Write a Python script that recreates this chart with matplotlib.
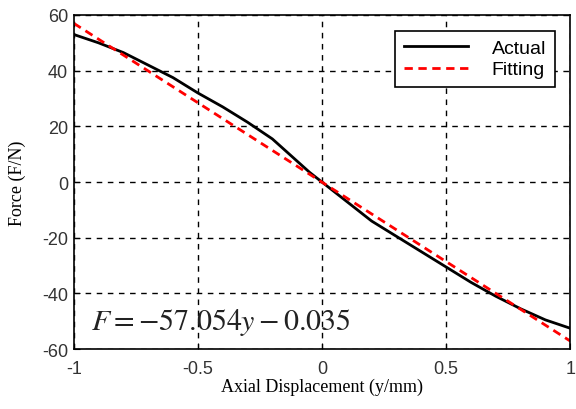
import numpy as np
import matplotlib
matplotlib.use("Agg")
import matplotlib.pyplot as plt

disp = [-1.0, -0.9, -0.8, -0.7, -0.6, -0.5, -0.4, -0.3, -0.25, -0.2, -0.15, -0.1,
        -0.05, 0.0, 0.05, 0.1, 0.15, 0.2, 0.3, 0.4, 0.5, 0.6, 0.7, 0.8, 0.9, 1.0]
force = [53.0, 50.0, 46.5, 42.0, 37.5, 32.0, 27.0, 21.5, 18.5, 15.5, 11.5, 7.5,
         3.5, 0.0, -3.5, -7.0, -10.5, -14.0, -19.5, -25.0, -30.5, -36.0, -41.0, -45.5, -49.5, -52.5]

# linear fit coefficients
slope = -57.054
offset = -0.035
fit_x = [-1.0, 1.0]

plt.rcParams['mathtext.fontset'] = 'stix'
plt.rcParams['axes.unicode_minus'] = False

fig = plt.figure(figsize=(5.76, 4.10), dpi=100)
ax = fig.add_axes([0.128, 0.146, 0.862, 0.815])

ax.plot(disp, force, color='black', lw=2, label='Actual')
fit_y = [slope * v + offset for v in fit_x]
ax.plot(fit_x, fit_y, color='red', lw=2, ls=(0, (3, 2)), label='Fitting')

ax.set_xlim(-1, 1)
ax.set_ylim(-60, 60)
ax.set_xticks([-1, -0.5, 0, 0.5, 1])
ax.set_xticklabels(['-1', '-0.5', '0', '0.5', '1'])
ax.set_yticks(range(-60, 61, 20))
ax.grid(True, color='black', ls=(0, (4, 4)), lw=1)
ax.tick_params(labelsize=13, direction='in', length=4)
ax.tick_params(axis='x', pad=8)
ax.tick_params(axis='y', pad=4)
for lab in ax.get_xticklabels() + ax.get_yticklabels():
    lab.set_family('Liberation Sans')
    lab.set_color('#333333')
for s in ax.spines.values():
    s.set_linewidth(1.2)

ax.set_xlabel('Axial Displacement (y/mm)', family='Liberation Serif', fontsize=13, labelpad=0)
ax.set_ylabel('Force (F/N)', family='Liberation Serif', fontsize=13)
ax.yaxis.set_label_coords(-0.097, 0.5)

ax.text(-0.93, -50, r'$F = -57.054y - 0.035$', fontsize=21.5, va='center', color='#222222')

leg = ax.legend(loc='upper right', prop={'family': 'Liberation Sans', 'size': 14},
                fancybox=False, edgecolor='black', framealpha=1, handlelength=3.3,
                borderpad=0.45, labelspacing=0.2, handletextpad=1.2, borderaxespad=0.8)
leg.get_frame().set_linewidth(1.2)

fig.savefig('out.png', dpi=100)
